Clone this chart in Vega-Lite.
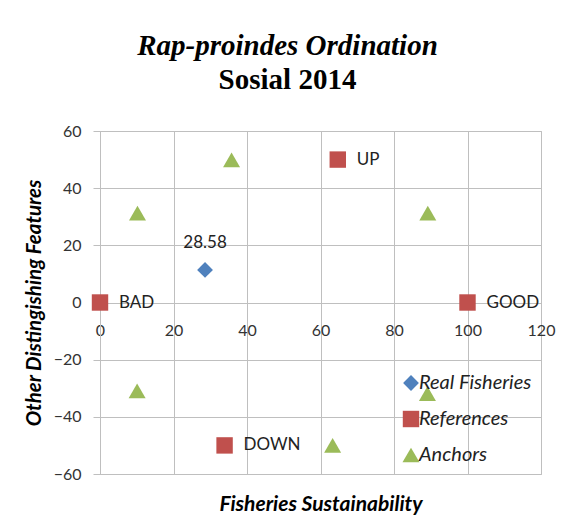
{
  "$schema": "https://vega.github.io/schema/vega-lite/v6.json",
  "width": 441,
  "height": 343,
  "autosize": "none",
  "padding": {"left": 100, "top": 131, "right": 27, "bottom": 42},
  "background": "white",
  "title": {
    "text": "Rap-proindes Ordination",
    "subtitle": "Sosial 2014",
    "anchor": "middle",
    "dx": -33,
    "offset": 28,
    "font": "Liberation Serif",
    "fontSize": 29,
    "fontWeight": "bold",
    "fontStyle": "italic",
    "color": "#000000",
    "subtitleFont": "Liberation Serif",
    "subtitleFontSize": 29,
    "subtitleFontWeight": "bold",
    "subtitleFontStyle": "normal",
    "subtitleColor": "#000000",
    "subtitlePadding": 5
  },
  "data": {
    "values": [
      {"group": "Real Fisheries", "x": 28.58, "y": 11.4, "label": "28.58"},
      {"group": "References", "x": 0, "y": 0, "label": "BAD"},
      {"group": "References", "x": 100, "y": 0, "label": "GOOD"},
      {"group": "References", "x": 64.7, "y": 50, "label": "UP"},
      {"group": "References", "x": 33.9, "y": -50, "label": "DOWN"},
      {"group": "Anchors", "x": 10.2, "y": 31.3, "label": ""},
      {"group": "Anchors", "x": 35.8, "y": 49.9, "label": ""},
      {"group": "Anchors", "x": 89.2, "y": 31.3, "label": ""},
      {"group": "Anchors", "x": 10.1, "y": -30.9, "label": ""},
      {"group": "Anchors", "x": 63.3, "y": -50, "label": ""},
      {"group": "Anchors", "x": 89.1, "y": -31.9, "label": ""}
    ]
  },
  "encoding": {
    "x": {
      "field": "x",
      "type": "quantitative",
      "scale": {"domain": [0, 120], "nice": false, "zero": false},
      "axis": {
        "title": "Fisheries Sustainability",
        "values": [0, 20, 40, 60, 80, 100, 120],
        "offset": -171.4,
        "ticks": false,
        "domain": false,
        "labelFlush": false,
        "labelOverlap": false,
        "labelPadding": 20,
        "titleY": 191,
        "titleBaseline": "top",
        "titleFontSize": 21
      }
    },
    "y": {
      "field": "y",
      "type": "quantitative",
      "scale": {"domain": [-60, 60], "nice": false, "zero": false},
      "axis": {
        "title": "Other Distingishing Features",
        "values": [-60, -40, -20, 0, 20, 40, 60],
        "tickSize": 7,
        "labelPadding": 12,
        "titlePadding": 9,
        "titleFontSize": 20.5,
        "domainColor": "#bfbfbf"
      }
    }
  },
  "layer": [
    {
      "mark": {"type": "point", "filled": true, "opacity": 1},
      "encoding": {
        "color": {
          "field": "group",
          "type": "nominal",
          "scale": {"domain": ["Real Fisheries", "References", "Anchors"], "range": ["#4F81BD", "#C0504D", "#9BBB59"]},
          "legend": {"title": null}
        },
        "shape": {
          "field": "group",
          "type": "nominal",
          "scale": {"domain": ["Real Fisheries", "References", "Anchors"], "range": ["diamond", "square", "triangle-up"]},
          "legend": {"title": null}
        },
        "size": {
          "field": "group",
          "type": "nominal",
          "scale": {"domain": ["Real Fisheries", "References", "Anchors"], "range": [250, 289, 324]},
          "legend": null
        }
      }
    },
    {
      "transform": [{"filter": "datum.group === 'References'"}],
      "mark": {"type": "text", "align": "left", "baseline": "middle", "dx": 19, "font": "Lato", "fontSize": 17, "color": "#222222"},
      "encoding": {"text": {"field": "label"}}
    },
    {
      "transform": [{"filter": "datum.group === 'Real Fisheries'"}],
      "mark": {"type": "text", "align": "center", "baseline": "middle", "dy": -27, "font": "Lato", "fontSize": 17, "color": "#222222"},
      "encoding": {"text": {"field": "label"}}
    }
  ],
  "config": {
    "view": {"stroke": "#bfbfbf", "strokeWidth": 1},
    "axis": {
      "gridColor": "#bfbfbf",
      "gridOpacity": 1,
      "tickColor": "#bfbfbf",
      "labelFont": "Lato",
      "labelFontSize": 16,
      "labelColor": "#333333",
      "titleFont": "Lato",
      "titleFontSize": 17,
      "titleFontWeight": "bold",
      "titleFontStyle": "italic",
      "titleColor": "#000000"
    },
    "legend": {
      "orient": "none",
      "legendX": 301,
      "legendY": 242,
      "padding": 0,
      "symbolSize": 160,
      "symbolType": "square",
      "labelFont": "Lato",
      "labelFontSize": 20,
      "labelFontStyle": "italic",
      "labelColor": "#222222",
      "labelOffset": -2,
      "rowPadding": 13,
      "symbolOpacity": 1
    }
  }
}
